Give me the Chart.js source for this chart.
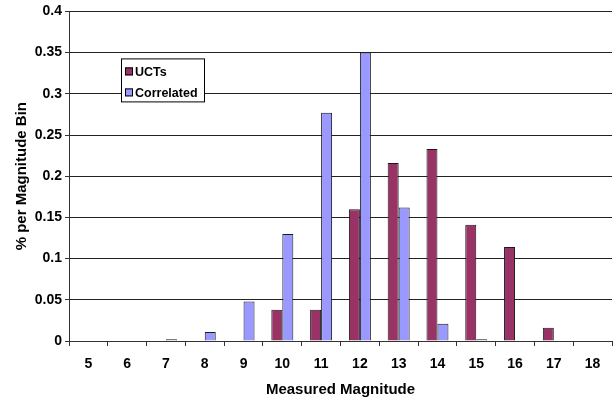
<!DOCTYPE html>
<html>
<head>
<meta charset="utf-8">
<script src="https://cdn.jsdelivr.net/npm/chart.js@4/dist/chart.umd.min.js"></script>
<style>
  html, body { margin: 0; padding: 0; background: #fff; }
  #wrap { width: 614px; height: 400px; }
</style>
</head>
<body>
<div id="wrap"><canvas id="c"></canvas></div>
<script>
// Magnitude bins along the x axis
const magnitudes = ['5', '6', '7', '8', '9', '10', '11', '12', '13', '14', '15', '16', '17', '18'];

// Fraction of objects per magnitude bin
const uctValues = [0, 0, 0, 0, 0, 0.038, 0.038, 0.16, 0.216, 0.233, 0.141, 0.114, 0.016, 0];
const correlatedValues = [0, 0.0005, 0.002, 0.011, 0.048, 0.13, 0.277, 0.35, 0.162, 0.021, 0.002, 0.0005, 0.0005, 0];

// Value axis tick labels
const yTickLabels = ['0', '0.05', '0.1', '0.15', '0.2', '0.25', '0.3', '0.35', '0.4'];

const FONT = 'Liberation Sans, Arial, Helvetica, sans-serif';

// Boxed legend drawn inside the plot area, near its upper left corner
const insideLegend = {
  id: 'insideLegend',
  afterDraw(chart) {
    const { ctx, chartArea } = chart;
    const x = chartArea.left + 52, y = chartArea.top + 47;
    const w = 83, h = 43;
    ctx.save();
    ctx.fillStyle = '#fff';
    ctx.fillRect(x, y, w, h);
    ctx.strokeStyle = '#000';
    ctx.lineWidth = 1;
    ctx.strokeRect(x + 0.5, y + 0.5, w, h);
    ctx.font = 'bold 12.5px ' + FONT;
    ctx.textBaseline = 'middle';
    chart.data.datasets.forEach((ds, i) => {
      const cy = y + 13 + i * 21;
      ctx.fillStyle = ds.backgroundColor;
      ctx.fillRect(x + 4, cy - 4, 8, 8);
      ctx.strokeStyle = '#000';
      ctx.strokeRect(x + 4.5, cy - 3.5, 7, 7);
      ctx.fillStyle = '#000';
      ctx.fillText(ds.label, x + 14, cy + 1);
    });
    ctx.restore();
  }
};

new Chart(document.getElementById('c'), {
  type: 'bar',
  data: {
    labels: magnitudes,
    datasets: [
      {
        label: 'UCTs',
        data: uctValues,
        backgroundColor: '#993366',
        borderColor: '#1a1a1a',
        borderWidth: 1,
        borderSkipped: 'bottom'
      },
      {
        label: 'Correlated',
        data: correlatedValues,
        backgroundColor: '#9999FF',
        borderColor: '#1a1a1a',
        borderWidth: 1,
        borderSkipped: 'bottom'
      }
    ]
  },
  options: {
    responsive: true,
    maintainAspectRatio: false,
    animation: false,
    layout: { padding: { top: 11, right: 2, left: 0, bottom: 0 } },
    datasets: {
      bar: { barPercentage: 1.0, categoryPercentage: 0.567 }
    },
    plugins: {
      legend: { display: false },
      tooltip: { enabled: false }
    },
    scales: {
      x: {
        offset: true,
        grid: {
          offset: true,
          drawOnChartArea: false,
          drawTicks: true,
          tickLength: 5,
          tickColor: '#333',
          tickWidth: 1
        },
        border: { color: '#333', width: 1 },
        ticks: {
          color: '#000',
          font: { family: FONT, size: 14, weight: 'bold' },
          padding: 10,
          maxRotation: 0,
          autoSkip: false
        },
        title: {
          display: true,
          text: 'Measured Magnitude',
          color: '#000',
          font: { family: FONT, size: 15, weight: 'bold' },
          padding: { top: 0, bottom: 1 }
        },
        afterFit(scale) { scale.height = 59; }
      },
      y: {
        min: 0,
        max: 0.4,
        ticks: {
          stepSize: 0.05,
          color: '#000',
          font: { family: FONT, size: 14, weight: 'bold' },
          padding: 3,
          callback: (v, i) => yTickLabels[i]
        },
        grid: {
          color: '#222',
          lineWidth: 1,
          drawTicks: true,
          tickLength: 4,
          tickColor: '#333'
        },
        border: { color: '#333', width: 1 },
        title: {
          display: true,
          text: '% per Magnitude Bin',
          color: '#000',
          font: { family: FONT, size: 15, weight: 'bold' },
          padding: { top: 13, bottom: 0 }
        },
        afterFit(scale) { scale.width = 69; }
      }
    }
  },
  plugins: [insideLegend]
});
</script>
</body>
</html>
